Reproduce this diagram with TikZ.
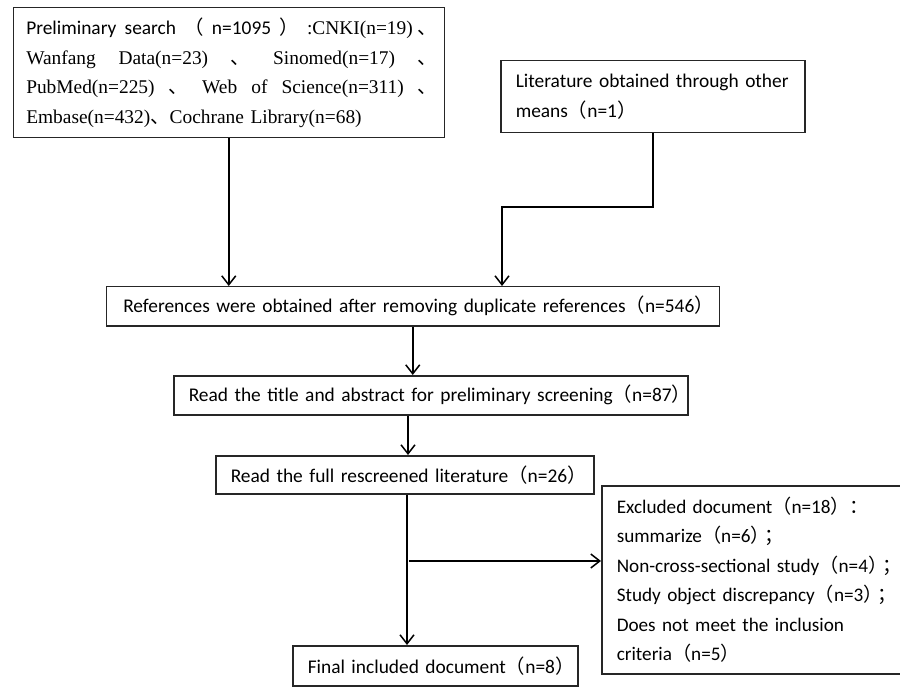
\documentclass[tikz,border=0pt]{standalone}
\usepackage{fontspec}
\setmainfont{Carlito}
\newfontfamily\tms{Liberation Serif}
\newfontfamily\cjk{Noto Sans CJK SC}
\usetikzlibrary{arrows.meta,calc}
\newcommand{\lp}{{\cjk （}}
\newcommand{\rp}{{\cjk ）}}
\newcommand{\dun}{{\cjk 、}}
\newcommand{\semi}{\hspace{-5pt}\makebox[0.3em][l]{\cjk ；}}
\begin{document}
\begin{tikzpicture}[x=1pt,y=-1pt,
  box/.style={draw=black!85, line width=1.5pt, inner sep=0pt, anchor=north west, align=left,
    font=\fontsize{19.4}{29.5}\selectfont},
  arr/.style={line width=1.5pt, -{Straight Barb[length=9pt,width=14pt,line width=1.5pt]}}]
\useasboundingbox (0,0) rectangle (900,687);

\node[box, minimum width=431, minimum height=130, text width=405] (search) at (12.5,7) {%
\makebox[411pt][l]{Preliminary\hfill search\hfill\lp\hfill n=1095\hfill\rp\hfill{\tms :CNKI(n=19)}\hspace{5pt}\dun}\\
\makebox[411pt][l]{\tms Wanfang\hfill Data(n=23)\hfill\dun\hfill Sinomed(n=17)\hfill\dun}\\
\makebox[411pt][l]{\tms PubMed(n=225)\hfill\dun\hfill Web\hfill of\hfill Science(n=311)\hfill\dun}\\
\mbox{{\tms Embase(n=432)}\dun{\tms Cochrane Library(n=68)}}};

\node[box, minimum width=304, minimum height=72, text width=274] (other) at (500,60) {%
\mbox{Literature obtained through other}\\ \mbox{means\lp{}n=1\rp{}}};

\node[box, minimum width=613, minimum height=39, text width=579] (refs) at (105.5,286) {%
\mbox{References were obtained after removing duplicate references\lp{}n=546\rp{}}};

\node[box, minimum width=514, minimum height=39, text width=484] (title) at (173,375) {%
\mbox{Read the title and abstract for preliminary screening\lp{}n=87\rp{}}};

\node[box, minimum width=378, minimum height=38, text width=348] (full) at (215,455) {%
\mbox{Read the full rescreened literature\lp{}n=26\rp{}}};

\node[box, minimum width=310, minimum height=188, text width=280,
      font=\fontsize{19.2}{29.5}\selectfont] (excl) at (601,485) {%
\mbox{Excluded document\lp{}n=18\rp{}{\cjk ：}}\\
\mbox{summarize\lp{}n=6\rp{}\semi}\\
\mbox{Non-cross-sectional study\lp{}n=4\rp{}\semi}\\
\mbox{Study object discrepancy\lp{}n=3\rp{}\semi}\\
\mbox{Does not meet the inclusion}\\
\mbox{criteria\lp{}n=5\rp{}}};

\node[box, minimum width=285, minimum height=40, text width=255] (final) at (292,645) {%
\mbox{Final included document\lp{}n=8\rp{}}};

\coordinate (bend) at (502,207);
\coordinate (t2f) at (408,0);
\coordinate (f2f) at (407,0);
\coordinate (branch) at (409,561);

\draw[arr] (search.south) -- (search.south |- refs.north);
\draw[arr] (other.south) |- (bend) -- (bend |- refs.north);
\draw[arr] (refs.south) -- (refs.south |- title.north);
\draw[arr] (title.south -| t2f) -- (full.north -| t2f);
\draw[arr] (full.south -| f2f) -- (final.north -| f2f);
\draw[arr] (branch) -- (branch -| excl.west);
\end{tikzpicture}
\end{document}
